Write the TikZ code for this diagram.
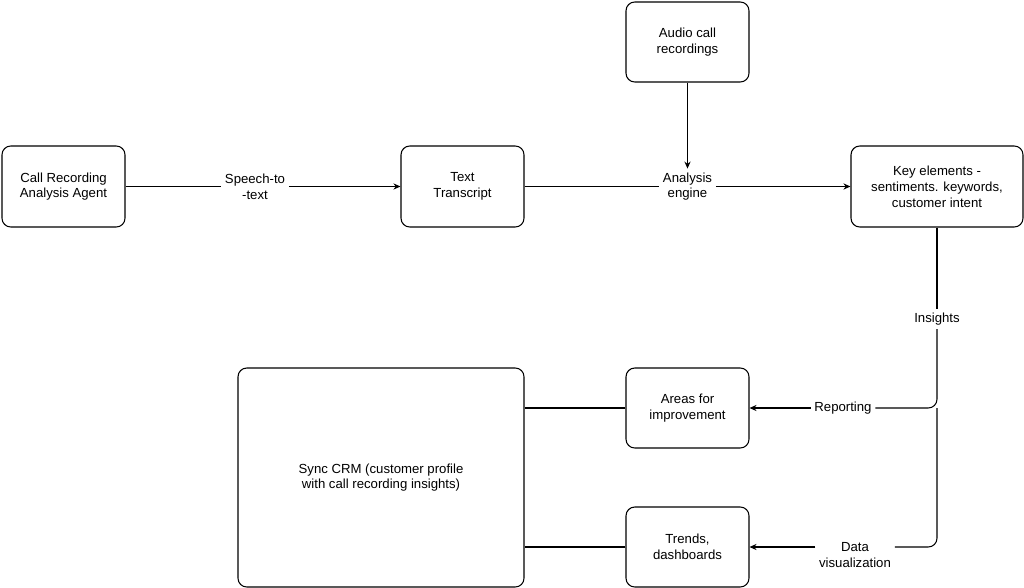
\documentclass[tikz,border=0pt]{standalone}
\usepackage{fontspec}
\setmainfont{Liberation Sans}
\usetikzlibrary{arrows.meta}
\begin{document}
\begin{tikzpicture}[x=0.02cm,y=-0.02cm,
  font=\fontsize{7.5}{9}\selectfont,
  box/.style={draw,rounded corners=5pt,line width=0.6pt,align=center,inner sep=0pt},
  lbl/.style={fill=white,align=center,inner sep=2pt},
  link/.style={line width=0.6pt},
  arr/.style={line width=0.6pt,-{Stealth[length=4pt,width=3.5pt]}}]
\useasboundingbox (0,0) rectangle (1024,588);
% boxes
\node[box,minimum width=123*0.02cm,minimum height=81*0.02cm] (agent) at (63.5,186.5) {Call Recording\\Analysis Agent};
\node[box,minimum width=123*0.02cm,minimum height=81*0.02cm] (text) at (462.5,186.5) {Text\\Transcript};
\node[box,minimum width=123*0.02cm,minimum height=80*0.02cm] (audio) at (687.5,42) {Audio call\\recordings};
\node[box,minimum width=172*0.02cm,minimum height=81*0.02cm] (keys) at (937,186.5) {Key elements -\\sentiments. keywords,\\customer intent};
\node[box,minimum width=123*0.02cm,minimum height=80*0.02cm] (areas) at (687.5,408) {Areas for\\improvement};
\node[box,minimum width=123*0.02cm,minimum height=80*0.02cm] (trends) at (687.5,547) {Trends,\\dashboards};
\node[box,minimum width=286*0.02cm,minimum height=219*0.02cm] (crm) at (381,477.5) {Sync CRM (customer profile\\with call recording insights)};
% labels
\node[lbl] (speech) at (255,186.5) {Speech-to\\-text};
\node[lbl] (engine) at (687.5,186.5) {Analysis\\engine};
\node[lbl] (insights) at (937,319) {Insights};
\node[lbl] (reporting) at (843,408) {Reporting};
\node[lbl] (dataviz) at (855,555) {Data\\visualization};
\coordinate (turnR) at (937,408);
\coordinate (turnD) at (937,547);
% connectors
\draw[link] (agent) -- (speech);
\draw[arr] (speech) -- (text);
\draw[link] (text) -- (engine);
\draw[arr] (engine) -- (keys);
\draw[arr] (audio) -- (engine);
\draw[link] (keys) -- (insights);
\draw[link,rounded corners=5pt] (insights) -- (turnR) -- (reporting);
\draw[link,rounded corners=5pt] (turnR) -- (turnD) -- (dataviz.east |- turnD);
\draw[arr] (reporting) -- (areas);
\draw[arr] (dataviz.west |- turnD) -- (trends.east |- turnD);
\draw[link] (areas) -- (crm.east |- areas);
\draw[link] (trends) -- (crm.east |- trends);
\end{tikzpicture}
\end{document}
